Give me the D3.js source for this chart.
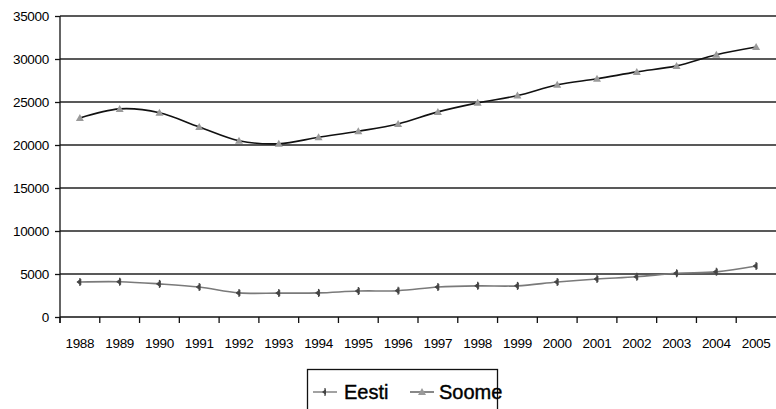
<!DOCTYPE html>
<html>
<head>
<meta charset="utf-8">
<script src="https://cdn.jsdelivr.net/npm/d3@7/dist/d3.min.js"></script>
<style>
  html, body { margin: 0; padding: 0; background: #fff; }
  svg { display: block; font-family: "Liberation Sans", Arial, sans-serif; }
</style>
</head>
<body>
<svg id="chart" width="776" height="409"></svg>
<script>
// Years on the category axis
const years = ["1988","1989","1990","1991","1992","1993","1994","1995","1996",
               "1997","1998","1999","2000","2001","2002","2003","2004","2005"];
// Series values
const eesti = [4070, 4100, 3850, 3480, 2800, 2780, 2800, 3020, 3060,
               3480, 3620, 3620, 4070, 4420, 4680, 5080, 5250, 5930];
const soome = [23150, 24200, 23750, 22100, 20500, 20150, 20900, 21600, 22450,
               23850, 24900, 25750, 27000, 27700, 28500, 29200, 30500, 31400];
const seriesNames = ["Eesti", "Soome"];
const yTicks = [0, 5000, 10000, 15000, 20000, 25000, 30000, 35000];

const svg = d3.select("#chart");
const plotLeft = 60, plotRight = 776, plotTop = 16, plotBottom = 317;

const x = d3.scaleBand().domain(years).range([plotLeft, plotRight]);
const y = d3.scaleLinear().domain([0, 35000]).range([plotBottom, plotTop]);

// Horizontal gridlines
svg.append("g")
  .selectAll("line")
  .data(yTicks.filter(d => d > 0))
  .join("line")
  .attr("x1", plotLeft).attr("x2", plotRight)
  .attr("y1", d => y(d)).attr("y2", d => y(d))
  .attr("stroke", "#222").attr("stroke-width", 1.3);

// Y axis
const yAxis = svg.append("g")
  .attr("transform", `translate(${plotLeft},0)`)
  .call(d3.axisLeft(y).tickValues(yTicks).tickSize(5).tickPadding(6).tickFormat(d3.format("d")));
yAxis.select(".domain").attr("stroke", "#111").attr("stroke-width", 1.3).attr("d", `M0,${plotTop}V${plotBottom + 6}`);
yAxis.selectAll(".tick line").attr("stroke", "#111").attr("stroke-width", 1.3);
yAxis.selectAll("text").attr("font-size", 13.5).attr("fill", "#000")
  .attr("font-family", "'Liberation Sans', Arial, sans-serif")
  .attr("letter-spacing", -0.3);

// X axis: ticks sit on category boundaries
const xAxisG = svg.append("g").attr("transform", `translate(0,${plotBottom})`);
xAxisG.append("line")
  .attr("x1", plotLeft).attr("x2", plotRight).attr("stroke", "#111").attr("stroke-width", 1.3);
xAxisG.selectAll("line.tk")
  .data(years)
  .join("line")
  .attr("class", "tk")
  .attr("x1", d => x(d)).attr("x2", d => x(d))
  .attr("y1", 0).attr("y2", 6)
  .attr("stroke", "#111").attr("stroke-width", 1.3);
xAxisG.selectAll("text")
  .data(years)
  .join("text")
  .attr("x", d => x(d) + x.bandwidth() / 2)
  .attr("y", 31)
  .attr("text-anchor", "middle")
  .attr("font-size", 13.5)
  .attr("letter-spacing", -0.3)
  .attr("fill", "#000")
  .text(d => d);

const cx = d => x(d) + x.bandwidth() / 2;
const line = vals => d3.line()
  .x((d, i) => cx(years[i]))
  .y(d => y(d))
  .curve(d3.curveCardinal.tension(0))(vals);

// Eesti: grey line, dark small markers
svg.append("path")
  .attr("d", line(eesti))
  .attr("fill", "none").attr("stroke", "#7a7a7a").attr("stroke-width", 1.6);
const eestiMarker = "M-3,0L1,-3L1,3Z";
svg.append("g").selectAll("path")
  .data(eesti)
  .join("path")
  .attr("transform", (d, i) => `translate(${cx(years[i])},${y(d)})`)
  .attr("d", eestiMarker)
  .attr("fill", "#444")
  .attr("stroke", "#444").attr("stroke-width", 0.8);
svg.append("g").selectAll("line")
  .data(eesti)
  .join("line")
  .attr("x1", (d, i) => cx(years[i])).attr("x2", (d, i) => cx(years[i]))
  .attr("y1", d => y(d) - 4).attr("y2", d => y(d) + 4)
  .attr("stroke", "#444").attr("stroke-width", 1.2);

// Soome: black line, grey triangle markers
svg.append("path")
  .attr("d", line(soome))
  .attr("fill", "none").attr("stroke", "#111").attr("stroke-width", 1.6);
const tri = "M0,-4L4,3L-4,3Z";
svg.append("g").selectAll("path")
  .data(soome)
  .join("path")
  .attr("transform", (d, i) => `translate(${cx(years[i])},${y(d)})`)
  .attr("d", tri)
  .attr("fill", "#9a9a9a");

// Legend
const lg = svg.append("g");
lg.append("rect")
  .attr("x", 307.5).attr("y", 369.5).attr("width", 190).attr("height", 50)
  .attr("fill", "#fff").attr("stroke", "#111").attr("stroke-width", 1.3);
const legendItems = [
  { name: seriesNames[0], x0: 313, tx: 344, stroke: "#7a7a7a" },
  { name: seriesNames[1], x0: 410, tx: 439, stroke: "#555" }
];
legendItems.forEach((it, k) => {
  lg.append("line")
    .attr("x1", it.x0).attr("x2", it.x0 + 24)
    .attr("y1", 392).attr("y2", 392)
    .attr("stroke", it.stroke).attr("stroke-width", 1.4);
  const mx = it.x0 + 12;
  if (k === 0) {
    lg.append("path").attr("transform", `translate(${mx},392)`).attr("d", eestiMarker).attr("fill", "#444");
    lg.append("line").attr("x1", mx).attr("x2", mx).attr("y1", 388).attr("y2", 396)
      .attr("stroke", "#444").attr("stroke-width", 1.2);
  } else {
    lg.append("path").attr("transform", `translate(${mx},392)`).attr("d", tri).attr("fill", "#9a9a9a");
  }
  lg.append("text")
    .attr("x", it.tx).attr("y", 399)
    .attr("font-size", 20)
    .attr("fill", "#000")
    .attr("stroke", "#000").attr("stroke-width", 0.4)
    .text(it.name);
});
</script>
</body>
</html>
